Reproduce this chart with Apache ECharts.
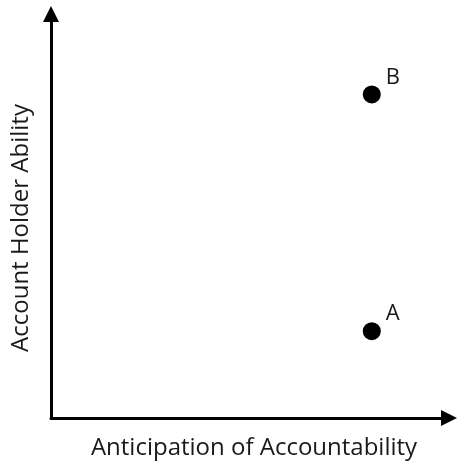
<!DOCTYPE html>
<html><head><meta charset="utf-8">
<script src="https://cdn.jsdelivr.net/npm/echarts@6/dist/echarts.min.js"></script>
<style>html,body{margin:0;padding:0;background:#fff}#c{width:457px;height:462px}</style>
</head><body><div id="c"></div>
<script>
const pointNames = ['A', 'B'];
const xValues = [0.806, 0.806];
const yValues = [0.215, 0.801];
const xTitle = 'Anticipation of Accountability';
const yTitle = 'Account Holder Ability';

const chart = echarts.init(document.getElementById('c'), null, {renderer: 'canvas'});
const axisCommon = {
  type: 'value', min: 0, max: 1,
  splitLine: {show: false}, axisTick: {show: false}, axisLabel: {show: false},
  axisLine: {show: true, symbol: ['none', 'triangle'], symbolSize: [16, 16],
    lineStyle: {color: '#000', width: 3}},
  nameLocation: 'middle'
};
chart.setOption({
  animation: false,
  grid: {left: 51, right: 8, top: 14, bottom: 44, containLabel: false, outerBoundsMode: 'none'},
  xAxis: Object.assign({}, axisCommon, {name: xTitle, nameGap: 18,
    nameTextStyle: {fontFamily: 'Open Sans', fontSize: 24, color: '#1a1a1a', padding: [0, 0, 0, 8]}}),
  yAxis: Object.assign({}, axisCommon, {name: yTitle, nameGap: 18,
    nameTextStyle: {fontFamily: 'Open Sans', fontSize: 24, color: '#1a1a1a', padding: [0, 24, 0, 0]}}),
  series: [{
    type: 'scatter',
    symbolSize: 18,
    itemStyle: {color: '#000', opacity: 1},
    data: pointNames.map((n, i) => ({name: n, value: [xValues[i], yValues[i]]})),
    label: {show: true, formatter: '{b}', position: 'right', distance: 5, offset: [0, -17],
      fontFamily: 'Open Sans', fontSize: 22, color: '#1a1a1a'}
  }]
});
</script></body></html>
